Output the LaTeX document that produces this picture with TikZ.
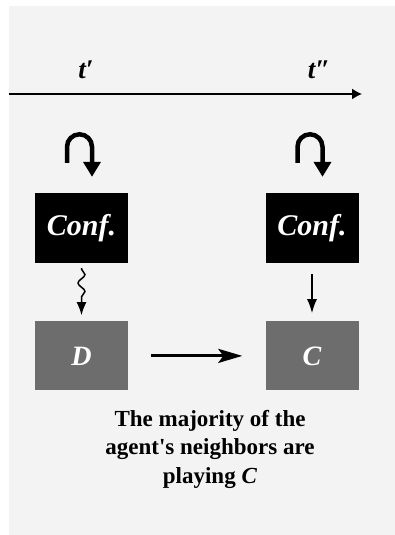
\documentclass[tikz,border=0pt]{standalone}
\usepackage{fontspec}
\setmainfont{Liberation Serif}[Ligatures=TeXOff]
\usepackage{tikz}
\usetikzlibrary{positioning,arrows.meta,decorations.pathmorphing}
\definecolor{bggray}{HTML}{F3F3F3}
\definecolor{boxgray}{HTML}{6D6D6D}

\begin{document}
\begin{tikzpicture}[
  x=1pt, y=1pt,
  conf/.style={fill=black, text=white, minimum width=93pt,
               minimum height=70pt, inner sep=0pt,
               font=\fontsize{30}{32}\selectfont\bfseries\itshape},
  state/.style={fill=boxgray, text=white, minimum width=93pt,
                minimum height=69pt, inner sep=0pt,
                font=\fontsize{28}{30}\selectfont\bfseries\itshape},
  tlabel/.style={font=\fontsize{27}{28}\selectfont\bfseries\itshape},
  hook/.style={line width=4.5pt, -{Triangle[length=15pt,width=17pt]}},
  >=latex
]

% Background
\useasboundingbox (0,0) rectangle (395,535);
\fill[bggray] (9,0) rectangle (395,529);

% Time line
\coordinate (tlS) at (9,441);
\coordinate (tlE) at (362,441);
\draw[line width=1.5pt, -{Latex[length=10pt,width=11pt]}] (tlS) -- (tlE);
\node[tlabel] (t1) at (86,465) {t′};
\node[tlabel] (t2) at (319,465) {t″};

% Confirmation boxes
\node[conf] (conf1) at (81.5,307) {Conf.};
\node[conf] (conf2) at (312,307) {Conf.};

% Strategy boxes
\node[state, below=58pt of conf1] (stD) {D};
\node[state, below=58pt of conf2] (stC) {C};

% Loops above the boxes
\coordinate[above left=30pt and 14.5pt of conf1.north] (loop1);
\coordinate[above right=16pt and 10.5pt of conf1.north] (loop1e);
\coordinate[above left=30pt and 14.5pt of conf2.north] (loop2);
\coordinate[above right=16pt and 10.5pt of conf2.north] (loop2e);
\draw[hook] (loop1) -- ++(0,16) arc (180:0:12.5) -- (loop1e);
\draw[hook] (loop2) -- ++(0,16) arc (180:0:12.5) -- (loop2e);

% Arrows down
\draw[line width=1.5pt, -{Latex[length=13pt,width=10pt]},
      decorate, decoration={snake, segment length=17pt, amplitude=3.5pt,
      pre length=1pt, post length=13pt}]
  ([yshift=-5pt]conf1.south) -- ([yshift=6pt]stD.north);
\draw[line width=1.5pt, -{Latex[length=14pt,width=10pt]},
      shorten <=11pt, shorten >=8pt] (conf2) -- (stC);

% From D to C
\draw[line width=3pt, -{Stealth[length=24pt,width=14pt,inset=5pt]},
      shorten <=23pt, shorten >=23pt] (stD) -- (stC);

% Caption
\node[align=center, inner sep=0pt, anchor=north,
      font=\fontsize{23}{28.5}\selectfont\bfseries] (note) at (210,125)
  {The majority of the\\agent's neighbors are\\playing \textit{C}};

\end{tikzpicture}
\end{document}
